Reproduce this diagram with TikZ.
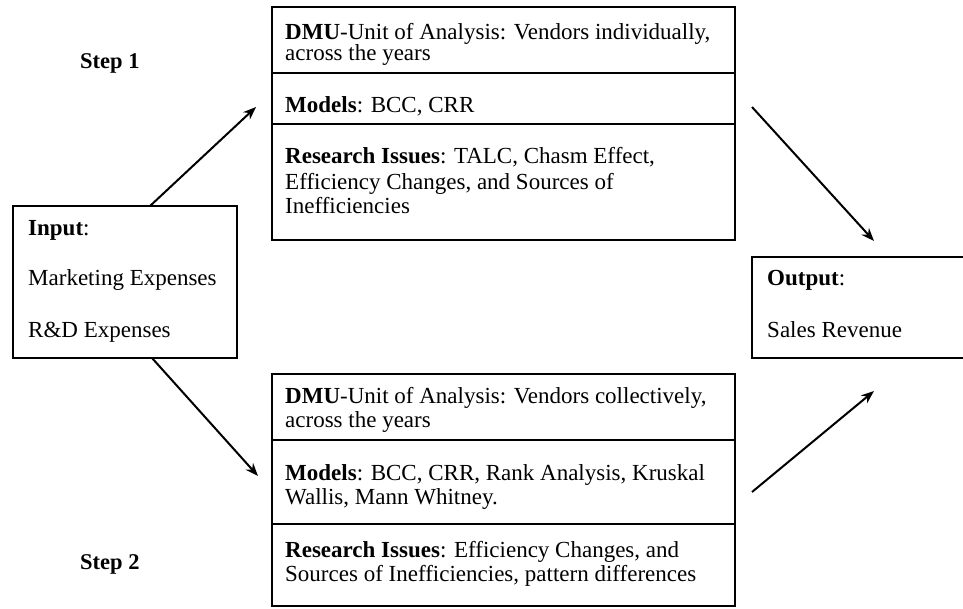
\documentclass[tikz,border=0pt]{standalone}
\usepackage{fontspec}
\setmainfont{Liberation Serif}
\usetikzlibrary{arrows.meta}
\begin{document}
\begin{tikzpicture}[x=1pt,y=-1pt,
  box/.style={draw=black, line width=1.5pt, inner sep=0pt, outer sep=0pt, anchor=north west},
  txt/.style={anchor=base west, inner sep=0pt, font=\fontsize{23}{25}\selectfont},
  steplabel/.style={anchor=base west, inner sep=0pt, font=\fontsize{22.5}{25}\selectfont\bfseries},
  arr/.style={line width=2pt, -{Stealth[length=13pt,width=10pt]}},
  divider/.style={line width=1.5pt}]
\useasboundingbox (0,0) rectangle (963,608);

% boxes
\node[box, minimum width=463pt, minimum height=233pt] (topbox) at (272,7) {};
\node[box, minimum width=463pt, minimum height=232pt] (botbox) at (272,374) {};
\node[box, minimum width=224pt, minimum height=152pt] (input) at (13,206) {};
\node[box, minimum width=230pt, minimum height=101pt] (output) at (752,257) {};

% dividers
\draw[divider] (topbox.west |- 0,73) -- (topbox.east |- 0,73);
\draw[divider] (topbox.west |- 0,124) -- (topbox.east |- 0,124);
\draw[divider] (botbox.west |- 0,440) -- (botbox.east |- 0,440);
\draw[divider] (botbox.west |- 0,524) -- (botbox.east |- 0,524);

% step labels
\node[steplabel] (step1) at (80,68) {Step 1};
\node[steplabel] (step2) at (80,569) {Step 2};

% top box text
\node[txt] (t1) at (285,39) {\textbf{DMU}-Unit of Analysis: Vendors individually,};
\node[txt] (t2) at (285,60) {across the years};
\node[txt] (t3) at (285,112) {\textbf{Models}: BCC, CRR};
\node[txt] (t4) at (285,163) {\textbf{Research Issues}: TALC, Chasm Effect,};
\node[txt] (t5) at (285,189) {Efficiency Changes, and Sources of};
\node[txt] (t6) at (285,213) {Inefficiencies};

% bottom box text
\node[txt] (b1) at (285,403) {\textbf{DMU}-Unit of Analysis: Vendors collectively,};
\node[txt] (b2) at (285,427) {across the years};
\node[txt] (b3) at (285,480) {\textbf{Models}: BCC, CRR, Rank Analysis, Kruskal};
\node[txt] (b4) at (285,504) {Wallis, Mann Whitney.};
\node[txt] (b5) at (285,557) {\textbf{Research Issues}: Efficiency Changes, and};
\node[txt] (b6) at (285,581) {Sources of Inefficiencies, pattern differences};

% input text
\node[txt] (i1) at (28,235) {\textbf{Input}:};
\node[txt] (i2) at (28,285) {Marketing Expenses};
\node[txt] (i3) at (28,337) {R\&D Expenses};

% output text
\node[txt] (o1) at (767,285) {\textbf{Output}:};
\node[txt] (o2) at (767,337) {Sales Revenue};

% arrow end points
\coordinate (a1e) at (256,107);
\coordinate (a2e) at (258,476);
\coordinate (a3s) at (752,107);
\coordinate (a3e) at (874,241);
\coordinate (a4s) at (752,492);
\coordinate (a4e) at (874,391);

\draw[arr] ([xshift=25pt]input.north) -- (a1e);
\draw[arr] ([xshift=27pt]input.south) -- (a2e);
\draw[arr] (a3s) -- (a3e);
\draw[arr] (a4s) -- (a4e);
\end{tikzpicture}
\end{document}
